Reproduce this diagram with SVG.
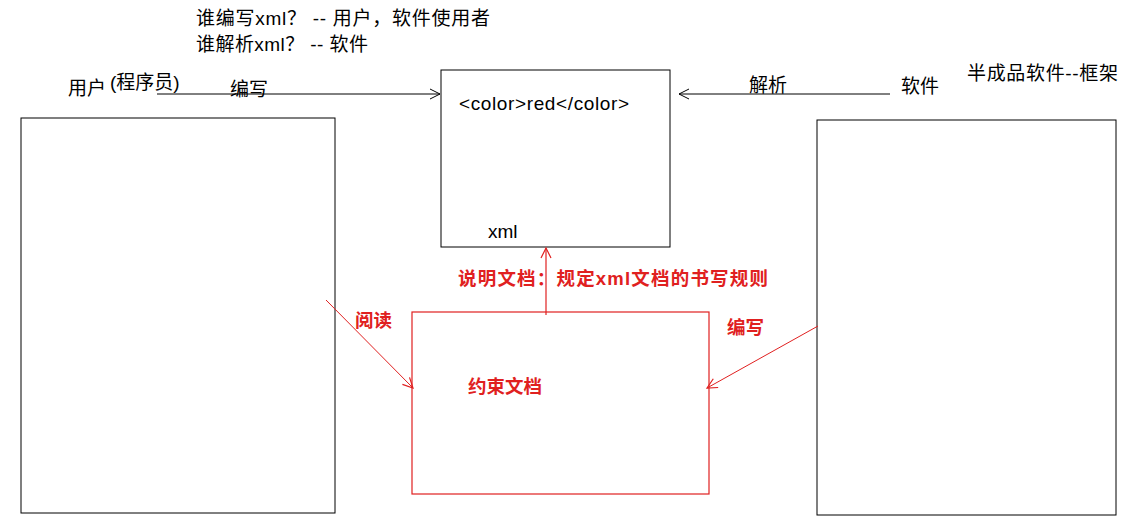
<svg xmlns="http://www.w3.org/2000/svg" width="1137" height="532" viewBox="0 0 1137 532">
<defs>
<style>
text{font-family:"Liberation Sans","Noto Sans CJK SC",sans-serif;font-size:19px;fill:#000}
.r{fill:#e02020;font-weight:bold;font-size:18.5px}
.bk{fill:none;stroke:#000;stroke-width:1}
.rd{fill:none;stroke:#e02020;stroke-width:1.2}
</style>
<marker id="ab" markerWidth="14" markerHeight="14" refX="12" refY="7" orient="auto" markerUnits="userSpaceOnUse"><path d="M2,2 L12,7 L2,12" fill="none" stroke="#000"/></marker>
<marker id="ar" markerWidth="14" markerHeight="14" refX="12" refY="7" orient="auto" markerUnits="userSpaceOnUse"><path d="M2,2 L12,7 L2,12" fill="none" stroke="#e02020" stroke-width="1.2"/></marker>
</defs>
<rect width="1137" height="532" fill="#fff"/>
<text x="196" y="25" textLength="294">谁编写xml？ -- 用户，软件使用者</text>
<text x="196" y="51" textLength="172">谁解析xml？ -- 软件</text>
<text x="967" y="80" textLength="151">半成品软件--框架</text>
<g id="user"><text x="68" y="95">用户</text><text x="110" y="89">(程序员)</text><rect class="bk" x="21" y="118" width="314" height="395"/></g>
<g id="xml"><rect class="bk" x="441" y="70" width="229" height="177"/><text x="459" y="110" textLength="170">&lt;color&gt;red&lt;/color&gt;</text><text x="488" y="238">xml</text></g>
<g id="software"><text x="901" y="93">软件</text><rect class="bk" x="817" y="120" width="299" height="395"/></g>
<g id="constraint"><rect class="rd" x="412" y="312" width="297" height="182"/><text class="r" x="468" y="393">约束文档</text></g>
<g id="connectors">
<line x1="157" y1="94" x2="440" y2="94" stroke="#000" marker-end="url(#ab)"/>
<text x="230" y="96">编写</text>
<line x1="890" y1="94" x2="679" y2="94" stroke="#000" marker-end="url(#ab)"/>
<text x="749" y="92">解析</text>
<line x1="546" y1="315" x2="546" y2="248" stroke="#e02020" stroke-width="1.2" marker-end="url(#ar)"/>
<text class="r" x="458" y="285" textLength="310">说明文档：规定xml文档的书写规则</text>
<line x1="326" y1="300" x2="413" y2="388" stroke="#e02020" stroke-width="1" marker-end="url(#ar)"/>
<text class="r" x="355" y="327">阅读</text>
<line x1="818" y1="326" x2="707" y2="388" stroke="#e02020" stroke-width="1" marker-end="url(#ar)"/>
<text class="r" x="727" y="334">编写</text>
</g>
</svg>
